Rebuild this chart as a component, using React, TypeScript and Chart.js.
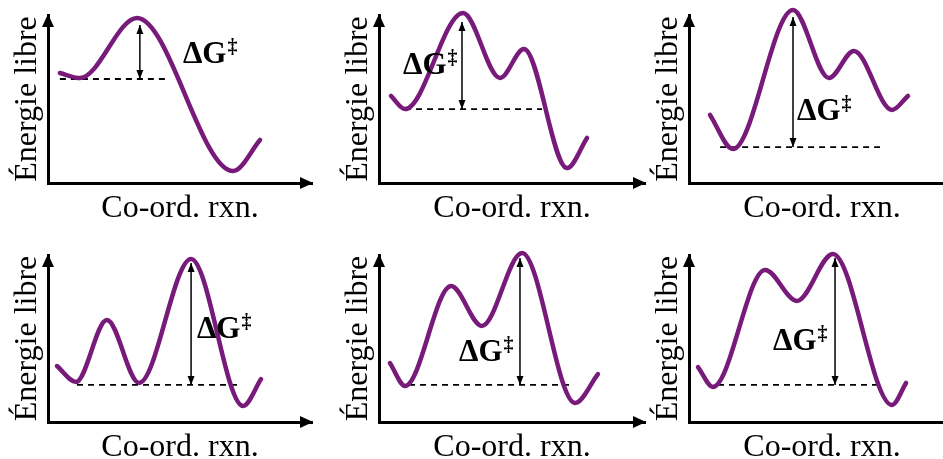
import React, { useEffect, useRef } from "react";
import { Chart, registerables } from "chart.js";

Chart.register(...registerables);

// ---------- text ----------
const AXIS_X_TITLE = "Co-ord. rxn.";
const AXIS_Y_TITLE = "Énergie libre";
const BARRIER_MAIN = "ΔG";
const BARRIER_SUP = "‡";

// ---------- data: reaction coordinate (0-100) & free energy (0-100) ----------
const coord1 = [4.5, 12.1, 33.7, 70.1, 80.3];
const energy1 = [65.5, 62.5, 98.2, 7.1, 25.6];
const coord2 = [4.5, 9.8, 31.6, 45.5, 54.5, 70.7, 78.2];
const energy2 = [51.8, 44.0, 101.2, 62.5, 79.8, 8.9, 26.8];
const coord3 = [7.9, 16.5, 39.1, 52.6, 62.0, 76.3, 82.3];
const energy3 = [40.5, 20.2, 103.0, 62.5, 78.6, 43.5, 51.8];
const coord4 = [3.4, 10.6, 22.3, 34.5, 54.2, 73.9, 80.7];
const energy4 = [33.5, 24.0, 61.1, 23.4, 97.6, 9.6, 25.7];
const coord5 = [4.1, 9.8, 27.1, 38.7, 53.8, 73.7, 82.3];
const energy5 = [35.3, 21.6, 81.4, 57.5, 101.2, 11.4, 28.7];
const coord6 = [3.4, 9.0, 28.6, 40.6, 54.1, 76.3, 81.6];
const energy6 = [32.9, 21.0, 91.0, 72.5, 100.6, 10.2, 23.4];

// reference level (dashed line) and its extent along the coordinate
const refEnergy = [61.9, 44.0, 21.4, 22.2, 22.2, 22.2];
const refStart = [4.5, 9.8, 11.7, 11.0, 11.3, 10.9];
const refEnd = [44.5, 61.3, 71.8, 72.3, 72.9, 72.6];
// ΔG‡ arrow: coordinate and energy of its top
const barrierCoord = [34.8, 31.2, 39.1, 54.2, 53.0, 54.9];
const barrierTop = [94.0, 95.8, 98.8, 95.2, 98.2, 98.2];

const coords = [coord1, coord2, coord3, coord4, coord5, coord6];
const energies = [energy1, energy2, energy3, energy4, energy5, energy6];

// ---------- layout (kept apart from the data) ----------
const PANEL_BOXES = [
  { left: 0, top: 1, plotW: 264, plotH: 168 },
  { left: 331, top: 1, plotW: 266, plotH: 168 },
  { left: 641, top: 1, plotW: 266, plotH: 168 },
  { left: 0, top: 241, plotW: 264, plotH: 167 },
  { left: 331, top: 241, plotW: 266, plotH: 167 },
  { left: 641, top: 241, plotW: 266, plotH: 167 },
];
// label anchor (left edge, vertical middle) in data units
const LABEL_ANCHORS = [
  [51.1, 76.2],
  [9.0, 69.6],
  [40.6, 42.3],
  [56.4, 55.1],
  [30.1, 41.3],
  [31.6, 47.9],
];

const SERIF = "'Liberation Serif', 'Times New Roman', Times, serif";
const PURPLE = "#781a7a";
const PAD_TOP = 14;
const PAD_RIGHT = 4;
const Y_AXIS_W = 48;
const X_AXIS_H = 42;

const decorPlugin = {
  id: "decor",
  afterDatasetsDraw(chart: any, _args: any, opts: any) {
    const { ctx, chartArea, scales } = chart;
    const L = chartArea.left;
    const T = chartArea.top;
    const R = chartArea.right;
    const B = chartArea.bottom;
    ctx.save();
    ctx.fillStyle = "#000";
    // axis arrowheads
    ctx.beginPath();
    ctx.moveTo(L, T - 1);
    ctx.lineTo(L - 6, T + 12);
    ctx.lineTo(L + 6, T + 12);
    ctx.closePath();
    ctx.fill();
    ctx.beginPath();
    ctx.moveTo(R + 1, B);
    ctx.lineTo(R - 12, B - 6);
    ctx.lineTo(R - 12, B + 6);
    ctx.closePath();
    ctx.fill();

    // ΔG‡ double arrow heads
    const meta = chart.getDatasetMeta(2);
    const pts = meta.data;
    if (pts && pts.length === 2) {
      const bot = pts[0];
      const top = pts[1];
      const hw = 3.5;
      const hl = 9;
      ctx.beginPath();
      ctx.moveTo(top.x, top.y);
      ctx.lineTo(top.x - hw, top.y + hl);
      ctx.lineTo(top.x + hw, top.y + hl);
      ctx.closePath();
      ctx.fill();
      ctx.beginPath();
      ctx.moveTo(bot.x, bot.y);
      ctx.lineTo(bot.x - hw, bot.y - hl);
      ctx.lineTo(bot.x + hw, bot.y - hl);
      ctx.closePath();
      ctx.fill();
    }

    // ΔG‡ label
    const [lx, ly] = opts.anchor;
    const px = scales.x.getPixelForValue(lx);
    const py = scales.y.getPixelForValue(ly);
    ctx.textAlign = "left";
    ctx.textBaseline = "middle";
    ctx.font = `bold 31px ${SERIF}`;
    ctx.fillText(BARRIER_MAIN, px, py);
    const w = ctx.measureText(BARRIER_MAIN).width;
    ctx.font = `bold 20px ${SERIF}`;
    ctx.fillText(BARRIER_SUP, px + w + 1, py - 7);
    ctx.restore();
  },
};

function Panel({ idx }: { idx: number }) {
  const ref = useRef<HTMLCanvasElement | null>(null);
  const box = PANEL_BOXES[idx];
  const width = Y_AXIS_W + box.plotW + PAD_RIGHT;
  const height = PAD_TOP + box.plotH + X_AXIS_H;

  useEffect(() => {
    if (!ref.current) return;
    const curve = coords[idx].map((x, i) => ({ x, y: energies[idx][i] }));
    const ref0 = [
      { x: refStart[idx], y: refEnergy[idx] },
      { x: refEnd[idx], y: refEnergy[idx] },
    ];
    const arrow = [
      { x: barrierCoord[idx], y: refEnergy[idx] },
      { x: barrierCoord[idx], y: barrierTop[idx] },
    ];
    const chart = new Chart(ref.current, {
      type: "line",
      data: {
        datasets: [
          {
            data: curve,
            borderColor: PURPLE,
            borderWidth: 4.5,
            pointRadius: 0,
            cubicInterpolationMode: "monotone",
            fill: false,
            clip: false as any,
            borderCapStyle: "round",
          },
          {
            data: ref0,
            borderColor: "#000",
            borderWidth: 1.8,
            borderDash: [6, 5],
            pointRadius: 0,
            fill: false,
            clip: false as any,
          },
          {
            data: arrow,
            borderColor: "#000",
            borderWidth: 1.5,
            pointRadius: 0,
            fill: false,
            clip: false as any,
          },
        ],
      },
      options: {
        responsive: false,
        animation: false,
        events: [],
        layout: { padding: { top: PAD_TOP, right: PAD_RIGHT, left: 0, bottom: 0 } },
        plugins: {
          legend: { display: false },
          tooltip: { enabled: false },
          decor: { anchor: LABEL_ANCHORS[idx] },
        } as any,
        scales: {
          x: {
            type: "linear",
            min: 0,
            max: 100,
            grid: { display: false, drawTicks: false },
            ticks: { display: false },
            border: { display: true, color: "#000", width: 3 },
            title: {
              display: true,
              text: AXIS_X_TITLE,
              color: "#000",
              font: { family: SERIF, size: 32, lineHeight: 1 },
              padding: { top: 10, bottom: 0 },
            },
          },
          y: {
            type: "linear",
            min: 0,
            max: 100,
            grid: { display: false, drawTicks: false },
            ticks: { display: false },
            border: { display: true, color: "#000", width: 3 },
            title: {
              display: true,
              text: AXIS_Y_TITLE,
              color: "#000",
              font: { family: SERIF, size: 32, lineHeight: 1 },
              padding: { top: 12, bottom: 4 },
            },
          },
        },
      },
      plugins: [decorPlugin],
    } as any);
    return () => chart.destroy();
  }, [idx]);

  return (
    <canvas
      ref={ref}
      width={width}
      height={height}
      style={{
        position: "absolute",
        left: box.left,
        top: box.top,
        width,
        height,
      }}
    />
  );
}

export default function App() {
  return (
    <div
      style={{
        position: "fixed",
        left: 0,
        top: 0,
        width: 943,
        height: 459,
        overflow: "hidden",
        background: "#fff",
      }}
    >
      {PANEL_BOXES.map((_, i) => (
        <Panel key={i} idx={i} />
      ))}
    </div>
  );
}
